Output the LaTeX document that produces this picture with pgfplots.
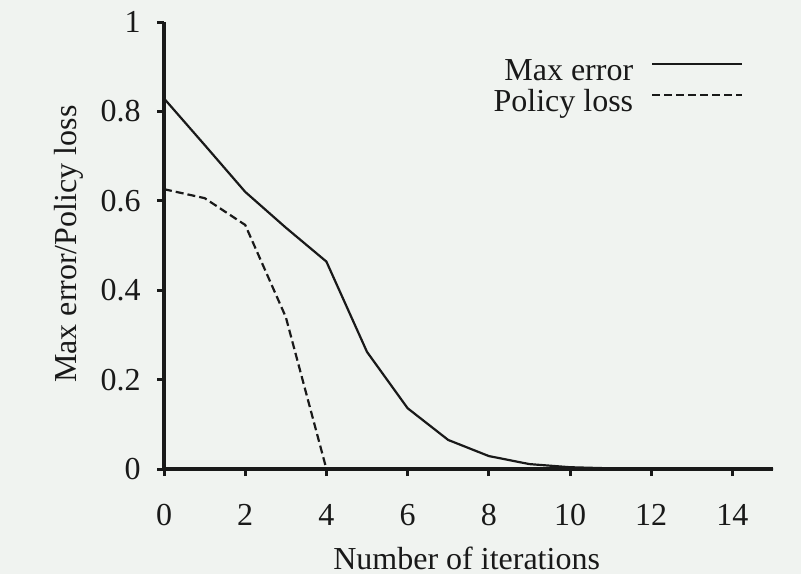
\documentclass[border=0pt]{standalone}
\usepackage{fontspec}
\setmainfont{Liberation Serif}
\usepackage{pgfplots}
\pgfplotsset{compat=1.18}
\definecolor{bg}{RGB}{240,243,240}
\definecolor{ink}{RGB}{25,25,25}
\newcommand{\fs}{\fontsize{16}{16.5}\selectfont}
\begin{document}
\begin{tikzpicture}[x=1pt,y=1pt]
\fill[bg] (0,0) rectangle (400.5,287);
\begin{axis}[
  at={(82pt,52.5pt)}, anchor=origin,
  scale only axis, width=304.5pt, height=223.5pt,
  xmin=0, xmax=15, ymin=0, ymax=1,
  axis x line*=bottom, axis y line*=left,
  axis line style={-, line width=1.6pt, ink},
  xtick={0,2,...,14}, ytick={0,0.2,0.4,0.6,0.8,1},
  yticklabels={0,0.2,0.4,0.6,0.8,1},
  tick align=outside, major tick length=3.5pt,
  tick style={line width=1.5pt, ink},
  /pgf/number format/assume math mode=true,
  tick label style={font=\fs, text=ink},
  xticklabel style={anchor=north, inner sep=0pt, yshift=-14pt},
  yticklabel style={anchor=east, inner sep=0pt, xshift=-8pt},
  xlabel={Number of iterations},
  ylabel={Max error/Policy loss},
  every axis x label/.style={at={(axis description cs:0.497,-0.199)}, anchor=center, font=\fs, text=ink},
  every axis y label/.style={at={(axis description cs:-0.157,0.503)}, rotate=90, anchor=center, font=\fs, text=ink},
  legend style={draw=none, fill=none, at={(axis description cs:0.952,0.919)}, anchor=north east,
    font=\fs, text=ink, row sep=0pt, column sep=9pt, inner sep=0pt,
    nodes={inner sep=0pt, text height=11pt, text depth=4.5pt}},
  legend cell align=right,
  legend plot pos=right,
  legend image code/.code={\draw[#1] (0pt,5pt) -- (45pt,5pt);},
  clip=false,
]
\addplot[ink, line width=1.1pt] coordinates {
 (0,0.829) (1,0.725) (2,0.62) (3,0.54) (4,0.464) (5,0.262) (6,0.136) (7,0.065)
 (8,0.029) (9,0.011) (10,0.004) (11,0.0015) (12,0.0005) (13,0.0002) (14,0.0001) (15,0)
};
\addlegendentry{Max error}
\addplot[ink, line width=1.1pt, dash pattern=on 4pt off 2pt] coordinates {
 (0,0.626) (1,0.606) (2,0.546) (3,0.34) (4,0)
};
\addlegendentry{Policy loss}
\end{axis}
\end{tikzpicture}
\end{document}
